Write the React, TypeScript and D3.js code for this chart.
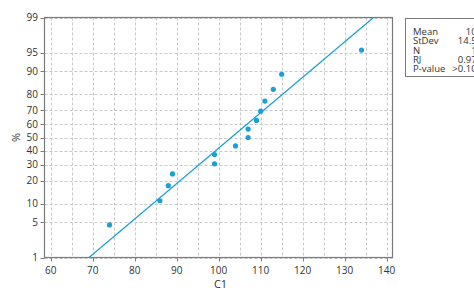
import React from "react";
import * as d3 from "d3";

const c1Values = [74, 86, 88, 89, 99, 99, 104, 107, 107, 109, 110, 111, 113, 115, 134];
const percentValues = [4.5, 11.0, 17.5, 24.0, 30.5, 37.0, 43.5, 50.0, 56.5, 63.0, 69.5, 76.0, 82.5, 89.0, 95.5];
const yTicks = [1, 5, 10, 20, 30, 40, 50, 60, 70, 80, 90, 95, 99];
const xTicks = [60, 70, 80, 90, 100, 110, 120, 130, 140];
const xGrid = [60, 65, 70, 75, 80, 85, 90, 95, 100, 105, 110, 115, 120, 125, 130, 135, 140];
const legendLabels = ["Mean", "StDev", "N", "RJ", "P-value"];
const legendValues = ["103", "14.56", "15", "0.974", ">0.100"];
const fitMean = 103;
const fitStDev = 14.56;

// inverse normal CDF (Acklam)
function probit(p: number): number {
  const a = [-3.969683028665376e1, 2.209460984245205e2, -2.759285104469687e2, 1.38357751867269e2, -3.066479806614716e1, 2.506628277459239];
  const b = [-5.447609879822406e1, 1.615858368580409e2, -1.556989798598866e2, 6.680131188771972e1, -1.328068155288572e1];
  const c = [-7.784894002430293e-3, -3.223964580411365e-1, -2.400758277161838, -2.549732539343734, 4.374664141464968, 2.938163982698783];
  const d = [7.784695709041462e-3, 3.224671290700398e-1, 2.445134137142996, 3.754408661907416];
  const pl = 0.02425;
  if (p < pl) {
    const q = Math.sqrt(-2 * Math.log(p));
    return (((((c[0] * q + c[1]) * q + c[2]) * q + c[3]) * q + c[4]) * q + c[5]) / ((((d[0] * q + d[1]) * q + d[2]) * q + d[3]) * q + 1);
  }
  if (p > 1 - pl) {
    const q = Math.sqrt(-2 * Math.log(1 - p));
    return -(((((c[0] * q + c[1]) * q + c[2]) * q + c[3]) * q + c[4]) * q + c[5]) / ((((d[0] * q + d[1]) * q + d[2]) * q + d[3]) * q + 1);
  }
  const q = p - 0.5;
  const r = q * q;
  return (((((a[0] * r + a[1]) * r + a[2]) * r + a[3]) * r + a[4]) * r + a[5]) * q / (((((b[0] * r + b[1]) * r + b[2]) * r + b[3]) * r + b[4]) * r + 1);
}

const W = 474;
const H = 297;
const left = 44.5;
const right = 392.5;
const top = 17.5;
const bottom = 257.5;

export default function App() {
  const x = d3.scaleLinear().domain([60, 140]).range([50.7, 386.7]);
  const zScale = d3.scaleLinear().domain([probit(0.01), probit(0.99)]).range([bottom, top]);
  const y = (pct: number) => zScale(probit(pct / 100));

  const zLo = probit(0.01);
  const zHi = probit(0.99);
  const fitPts: [number, number][] = [
    [x(fitMean + zLo * fitStDev), zScale(zLo)],
    [x(fitMean + zHi * fitStDev), zScale(zHi)],
  ];
  const line = d3.line<[number, number]>();

  const font = "'Open Sans', 'Noto Sans', sans-serif";
  const grid = "#c9c9c9";
  const axisCol = "#7a7a7a";
  const blue = "#1a9fd6";

  return (
    <svg width={W} height={H} style={{ position: "absolute", left: 0, top: 0, background: "#fff" }} fontFamily={font}>
      <rect x={0} y={0} width={W} height={H} fill="#fff" />
      {/* grid */}
      {xGrid.map((v) => (
        <line key={"gx" + v} x1={Math.round(x(v)) + 0.5} x2={Math.round(x(v)) + 0.5} y1={top} y2={bottom} stroke={grid} strokeDasharray="3,2" strokeWidth={1} />
      ))}
      {yTicks.map((v) => (
        <line key={"gy" + v} x1={left} x2={right} y1={Math.round(y(v)) + 0.5} y2={Math.round(y(v)) + 0.5} stroke={grid} strokeDasharray="3,2" strokeWidth={1} />
      ))}
      {/* frame */}
      <rect x={left} y={top} width={right - left} height={bottom - top} fill="none" stroke={axisCol} strokeWidth={1.2} />
      {/* y ticks */}
      {yTicks.map((v) => (
        <g key={"yt" + v}>
          <line x1={left - 4} x2={left} y1={Math.round(y(v)) + 0.5} y2={Math.round(y(v)) + 0.5} stroke={axisCol} strokeWidth={1} />
          <text x={left - 6.5} y={y(v)} dy="0.35em" textAnchor="end" fontSize={10} fill="#333">{v}</text>
        </g>
      ))}
      {/* x ticks */}
      {xTicks.map((v) => (
        <g key={"xt" + v}>
          <line x1={Math.round(x(v)) + 0.5} x2={Math.round(x(v)) + 0.5} y1={bottom} y2={bottom + 4} stroke={axisCol} strokeWidth={1} />
          <text x={x(v)} y={bottom + 16} textAnchor="middle" fontSize={10} fill="#333">{v}</text>
        </g>
      ))}
      {/* axis titles */}
      <text x={220.5} y={288} textAnchor="middle" fontSize={11} fill="#333">C1</text>
      <text transform={`translate(19.5,${(top + bottom) / 2}) rotate(-90)`} textAnchor="middle" fontSize={11} fill="#333">%</text>
      {/* fit line */}
      <path d={line(fitPts) || ""} stroke={blue} strokeWidth={1.2} fill="none" />
      {/* points */}
      {c1Values.map((v, i) => (
        <circle key={"p" + i} cx={x(v)} cy={y(percentValues[i])} r={2.6} fill={blue} />
      ))}
      {/* legend */}
      <rect x={405.5} y={18.5} width={90} height={58} fill="#fff" stroke={axisCol} strokeWidth={1} />
      {legendLabels.map((l, i) => (
        <g key={"lg" + i}>
          <text x={413} y={31.5 + i * 9.4} dy="0.35em" fontSize={9.5} fill="#333">{l}</text>
          <text x={482} y={31.5 + i * 9.4} dy="0.35em" textAnchor="end" fontSize={9.5} fill="#333">{legendValues[i]}</text>
        </g>
      ))}
    </svg>
  );
}
